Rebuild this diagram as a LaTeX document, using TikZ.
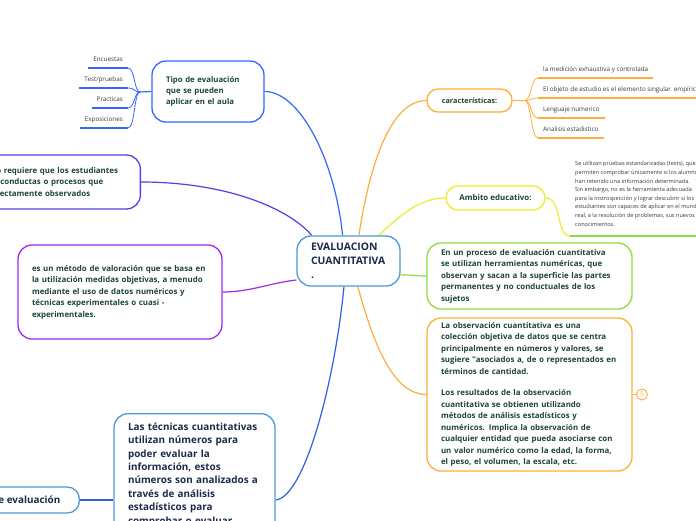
\documentclass[tikz,border=0pt]{standalone}
\usepackage{fontspec}
\setmainfont{Open Sans}
\usetikzlibrary{backgrounds}
\definecolor{cblue}{HTML}{3366FF}
\definecolor{cindigo}{HTML}{5B3BEA}
\definecolor{cviolet}{HTML}{A626EE}
\definecolor{clblue}{HTML}{4A9AD8}
\definecolor{cdblue}{HTML}{2F5FE8}
\definecolor{corange}{HTML}{FFAD3B}
\definecolor{cyellow}{HTML}{EDED2E}
\definecolor{cgreen}{HTML}{8EDD3A}
\definecolor{txtg}{HTML}{1D4634}
\definecolor{txtn}{HTML}{1B2B48}
\definecolor{txtl}{HTML}{3A3A3A}
\newcommand\bxfont{\bfseries\fontsize{7.9}{11.5}\selectfont}
\begin{document}
\begin{tikzpicture}[x=1pt,y=-1pt,
  bx/.style={draw, rounded corners=14pt, line width=1.3pt, fill=white, text=txtg, font=\bxfont, align=left, inner xsep=14pt, inner ysep=4pt},
  conn/.style={line width=1.2pt},
  leaf/.style={font=\fontsize{6.3}{7}\selectfont, text=txtl, inner xsep=5pt, inner ysep=0pt, text height=4.5pt, text depth=6pt},
  uline/.style={line width=1.7pt}]
\useasboundingbox (0,0) rectangle (696,520);
\begin{pgfonlayer}{background}
\fill[white] (0,0) rectangle (696,520);
\end{pgfonlayer}
\clip (0,0) rectangle (696,520);

% center
\node[bx, draw=clblue, text=txtn, font=\bfseries\fontsize{10.4}{14}\selectfont, minimum height=50pt, text width=75pt] (c) at (348.5,261) {EVALUACION\\CUANTITATIVA\\.};

% left boxes
\node[bx, draw=cblue, minimum height=61pt, text width=84pt, font=\bfseries\fontsize{7.8}{11}\selectfont] (tipo) at (208,91.5) {Tipo de evaluación\\que se pueden\\aplicar en el aula};
\node[bx, draw=cindigo, anchor=east, minimum height=54pt, text width=130pt] (b2) at (141,182) {o requiere que los estudiantes\\\hspace{4pt}conductas o procesos que\\rectamente observados};
\node[bx, draw=cviolet, minimum height=94pt, text width=176pt] (b3) at (120,292) {es un método de valoración que se basa en\\la utilización medidas objetivas, a menudo\\mediante el uso de datos numéricos y\\técnicas experimentales o cuasi -\\experimentales.};
\node[bx, draw=clblue, text=txtn, anchor=east, minimum height=26pt, inner xsep=19pt, rounded corners=12pt, font=\bfseries\fontsize{9.9}{13.4}\selectfont] (bl) at (80,500) {e evaluación};
\node[bx, draw=clblue, text=txtn, anchor=north, text width=133pt, inner ysep=9pt, font=\bfseries\fontsize{9.9}{13.4}\selectfont] (b5) at (194.5,413) {Las técnicas cuantitativas\\utilizan números para\\poder evaluar la\\información, estos\\números son analizados a\\través de análisis\\estadísticos para\\comprobar o evaluar};

% left leaves
\node[leaf, anchor=south east] (l1) at (128,68) {Encuestas};
\node[leaf, anchor=south east] (l2) at (128,88) {Test/pruebas};
\node[leaf, anchor=south east] (l3) at (128,108) {Practicas};
\node[leaf, anchor=south east] (l4) at (128,128) {Exposiciones};
\coordinate (hl) at (140,92);

% right boxes
\node[bx, draw=corange, minimum width=85pt, minimum height=23pt, rounded corners=11pt, inner xsep=4pt, align=center, font=\bfseries\fontsize{7.3}{8}\selectfont] (car) at (469.5,100.5) {características:};
\node[bx, draw=cyellow, minimum width=99pt, minimum height=24pt, rounded corners=12pt, inner xsep=4pt, align=center] (amb) at (495.5,198) {Ambito educativo:};
\node[bx, draw=cgreen, minimum height=66pt, text width=177pt] (gb) at (529.5,276) {En un proceso de evaluación cuantitativa\\se utilizan herramientas numéricas, que\\observan y sacan a la superficie las partes\\permanentes y no conductuales de los\\sujetos};
\node[bx, draw=corange, minimum height=153pt, text width=177pt] (ob) at (529.5,394.5) {La observación cuantitativa es una\\colección objetiva de datos que se centra\\principalmente en números y valores, se\\sugiere "asociados a, de o representados en\\términos de cantidad.\\[10pt]Los resultados de la observación\\cuantitativa se obtienen utilizando\\métodos de análisis estadísticos y\\numéricos. Implica la observación de\\cualquier entidad que pueda asociarse con\\un valor numérico como la edad, la forma,\\el peso, el volumen, la escala, etc.};
\node[circle, draw=corange, line width=0.9pt, fill=white, minimum size=11pt, inner sep=0pt, text=corange, font=\fontsize{6.5}{6.5}\selectfont] (n5) at (642,394.5) {5};

% right leaves
\node[leaf, anchor=south west] (r1) at (538,78) {la medición exhaustiva y controlada};
\node[leaf, anchor=south west] (r2) at (538,98) {El objeto de estudio es el elemento singular\hspace{3pt}empírico};
\node[leaf, anchor=south west] (r3) at (538,118) {Lenguaje numerico};
\node[leaf, anchor=south west] (r4) at (538,138) {Analisis estadistico};
\coordinate (hr) at (525,100.5);

% ambito paragraph
\node[anchor=north west, inner sep=0pt, align=left, text=txtl, font=\fontsize{5.6}{8.6}\selectfont] (ap) at (575,161.5) {Se utilizan pruebas estandarizadas (tests), que\\permiten comprobar únicamente si los alumnos\\han retenido una información determinada.\\Sin embargo, no es la herramienta adecuada\\para la instrospección y lograr descubrir si los\\estudiantes son capaces de aplicar en el mundo\\real, a la resolución de problemas, sus nuevos\\conocimientos.};
\coordinate (gl) at (570,236);

\begin{pgfonlayer}{background}
% center connectors
\draw[conn, cblue] (c.103) .. controls (335,160) and (300,91.5) .. (tipo.east);
\draw[conn, cindigo] (c.145) .. controls (285,205) and (220,182) .. (b2.east);
\draw[conn, cviolet] (c.200) .. controls (270,283) and (250,292) .. (b3.east);
\draw[conn, cdblue] (c.260) .. controls (335,380) and (305,497) .. (b5.east |- bl.east);
\draw[conn, cdblue] (bl.east) -- (b5.west |- bl.east);
\draw[conn, corange] (c.68) .. controls (372,150) and (395,100.5) .. (car.west);
\draw[conn, cyellow] (c.40) .. controls (400,215) and (420,198) .. (amb.west);
\draw[conn, cgreen] (c.345) .. controls (415,275) and (415,276) .. (gb.west);
\draw[conn, corange] (c.290) .. controls (375,350) and (395,394.5) .. (ob.west);
\draw[conn, corange] (ob.east) -- (n5.west);
\draw[conn, cyellow] (amb.east) .. controls (562,198) and (556,236) .. (gl);
\draw[line width=2.6pt, cgreen] (gl) -- ++(140,0);
% left leaves
\draw[conn, cblue] (tipo.west) -- (hl);
\foreach \n/\y in {l1/68,l2/88,l3/108,l4/128}{
  \draw[conn, cblue, line width=0.8pt] (hl) .. controls (134,92) and (135,\y) .. (\n.south east);
  \draw[uline, cblue] (\n.south west) -- (\n.south east);
}
% right leaves
\draw[conn, corange] (car.east) -- (hr);
\foreach \n/\y in {r1/78,r2/98,r3/118,r4/138}{
  \draw[conn, corange, line width=0.8pt] (hr) .. controls (531,100.5) and (531,\y) .. (\n.south west);
}
\draw[uline, corange] (r1.south west) -- (r1.south east);
\draw[uline, corange] (r2.south west) -- ++(170,0);
\draw[uline, corange] (r3.south west) -- (r3.south east);
\draw[uline, corange] (r4.south west) -- (r4.south east);
\end{pgfonlayer}
\end{tikzpicture}
\end{document}
